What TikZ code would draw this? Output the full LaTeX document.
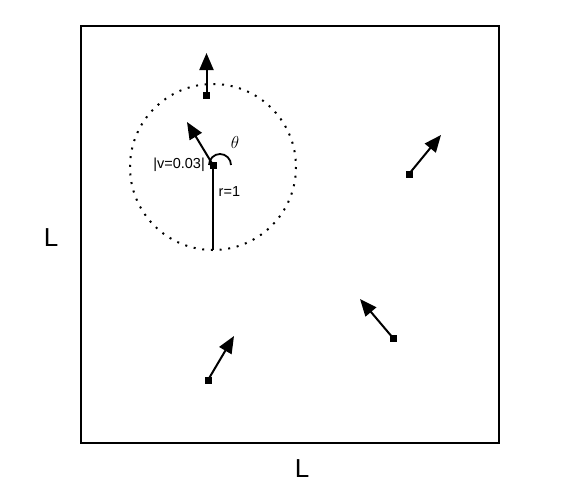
\documentclass[tikz,border=0pt]{standalone}
\usepackage{fontspec}
\setmainfont{Liberation Sans}
\usetikzlibrary{arrows.meta}
\begin{document}
\begin{tikzpicture}[x=1pt,y=-1pt,
  particle/.style={fill=black,inner sep=0pt,minimum size=7pt,draw=none},
  vel/.style={line width=2pt,-{Triangle[length=17pt,width=14pt]}},
  side/.style={font=\fontsize{26}{28}\selectfont},
  small/.style={font=\fontsize{14.5}{16}\selectfont,inner sep=0pt}]
\useasboundingbox (0,0) rectangle (588,493);
\fill[white] (0,0) rectangle (588,493);
\draw[line width=1.8pt] (81,26) rectangle (499,443);
\node[side] (Lleft) at (51,238) {L};
\node[side] (Lbot) at (302,469) {L};
\draw[line width=2pt,dash pattern=on 2pt off 6.7pt] (213,167) circle (83);
\node[particle] (p0) at (213,165) {};
\node[particle] (p1) at (206.5,95) {};
\node[particle] (p2) at (409,174) {};
\node[particle] (p3) at (393,338) {};
\node[particle] (p4) at (208,380) {};
\coordinate (t0) at (187,122);
\coordinate (t1) at (206.5,53);
\coordinate (t2) at (441,135);
\coordinate (t3) at (360,299);
\coordinate (t4) at (234,336);
\coordinate (rb) at (213,250);
\draw[vel] (p0.center) -- (t0);
\draw[vel] (p1.center) -- (t1);
\draw[vel] (p2.center) -- (t2);
\draw[vel] (p3.center) -- (t3);
\draw[vel] (p4.center) -- (t4);
\draw[line width=2pt] (p0.center) -- (rb);
\draw[line width=1.8pt] (209,165) arc[start angle=180,end angle=360,radius=11];
\node[font=\fontsize{16}{18}\selectfont] (th) at (235,142) {$\theta$};
\node[small,anchor=east] (vl) at (205,165) {|v=0.03|};
\node[small,anchor=west] (rl) at (218.5,192) {r=1};
\end{tikzpicture}
\end{document}
